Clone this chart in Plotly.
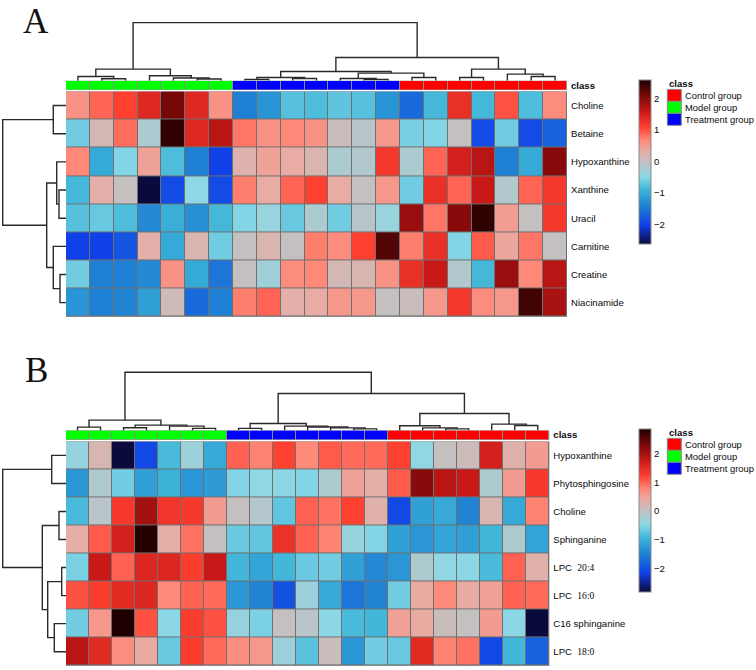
import plotly.graph_objects as go

W, H = 756, 670

# ---------------- data ----------------
group_names = ["Control group", "Model group", "Treatment group"]
group_colors = ["#ff0000", "#00ff00", "#0000ff"]
colorbar_ticks = [-2, -1, 0, 1, 2]

classes_A = ["Model group"] * 7 + ["Treatment group"] * 7 + ["Control group"] * 7
classes_B = ["Model group"] * 7 + ["Treatment group"] * 7 + ["Control group"] * 7

metabolites_A = ["Choline", "Betaine", "Hypoxanthine", "Xanthine", "Uracil",
                 "Carnitine", "Creatine", "Niacinamide"]
choline_A = [0.6, 0.9, 1.1, 1.4, 2.1, 1.4, 0.6, -1.4, -1.2, -0.75, -0.8, -0.7, -0.75, -1.2, -1.6, -0.85, 1.3, -0.85, 1.0, -0.8, 0.65]
betaine_A = [-0.6, 0.15, 0.85, -0.2, 2.5, 1.4, 1.7, 0.8, 0.6, 0.7, 0.6, 0.05, -0.1, 0.55, -0.55, -0.5, 0.0, -1.9, -0.6, -1.9, -1.7]
hypoxanthine_A = [0.7, -1.0, -0.5, 0.45, -0.8, -1.4, -2.0, 0.25, 0.45, 0.35, 0.2, -0.2, -0.15, 1.2, -0.2, 0.9, 1.5, 1.7, -1.4, -1.0, 2.0]
xanthine_A = [-0.85, 0.3, 0.0, -2.6, -1.9, -0.45, -1.9, 0.75, 0.35, 0.9, 1.1, 0.35, 0.0, 0.55, -0.6, 1.3, 0.9, 1.6, -0.15, 0.9, 1.2]
uracil_A = [-0.75, -0.65, -0.8, -1.3, -0.95, -1.25, -0.85, -0.5, -0.35, -0.65, -0.2, -0.6, -0.1, -0.35, 1.9, 0.8, 2.0, 2.5, 0.5, 0.0, 1.2]
carnitine_A = [-2.0, -2.0, -1.8, 0.3, -1.0, 0.2, -0.6, 0.0, 0.2, 0.0, 0.75, 0.65, 1.1, 2.3, 0.75, 1.3, -0.5, 0.95, 0.4, 0.8, 0.0]
creatine_A = [-0.6, -1.4, -1.4, -1.3, 0.6, -1.0, -1.5, 0.0, -0.3, 0.65, 0.7, 0.15, 0.2, 0.6, 1.3, 1.6, -0.15, -0.85, 1.9, 0.7, 1.7]
niacinamide_A = [-1.2, -1.4, -1.35, -1.1, 0.1, -1.6, -1.4, 0.75, 0.9, 0.3, 0.35, 0.55, 0.55, 0.0, 0.05, 0.55, 1.2, 0.65, 0.55, 2.4, 1.8]
values_A = [choline_A, betaine_A, hypoxanthine_A, xanthine_A, uracil_A,
            carnitine_A, creatine_A, niacinamide_A]

SERIF = "Liberation Serif, Times New Roman, serif"
metabolites_B = ["Hypoxanthine", "Phytosphingosine", "Choline", "Sphinganine",
                 'LPC  <span style="font-family:' + SERIF + '">20:4</span>',
                 'LPC  <span style="font-family:' + SERIF + '">16:0</span>',
                 "C16 sphinganine",
                 'LPC  <span style="font-family:' + SERIF + '">18:0</span>']
hypoxanthine_B = [-0.4, 0.2, -2.85, -2.1, -0.9, -0.35, -1.1, 1.0, 0.8, 1.2, 0.75, 1.05, 0.95, 0.95, 1.2, -0.45, 0.0, 0.1, 1.65, 0.3, 0.55]
phytosphingosine_B = [-1.3, -0.2, -0.65, -1.2, -1.0, -1.3, -1.25, -0.55, -0.45, -0.5, -0.55, -0.2, 0.5, 0.35, 1.05, 2.2, 1.85, 1.75, -0.2, 0.55, 1.3]
choline_B = [-0.9, -0.1, 1.3, 2.0, 1.35, 1.3, 0.55, 0.0, -0.15, -0.75, 1.0, 0.9, 1.2, 0.3, -2.1, -1.2, -1.1, -1.5, 0.2, -1.1, 0.8]
sphinganine_B = [0.35, 1.05, 1.65, 2.8, 0.35, 0.9, 0.0, -0.7, -0.75, 1.4, 1.0, 0.8, -0.4, -0.55, -1.2, -1.3, -1.15, -1.2, -0.95, -0.2, -1.15]
lpc204_B = [-0.6, 1.75, 1.0, 1.55, 1.55, 1.25, 1.75, -0.95, -1.15, -0.95, -0.7, -0.65, -1.2, -1.45, -1.3, -0.2, -0.45, -0.5, -0.9, 1.0, 0.3]
lpc160_B = [1.1, 1.25, 1.5, 1.55, 0.75, 1.0, 0.95, -1.3, -1.5, -2.0, -0.35, -1.1, -1.65, -1.5, -0.65, 0.4, 0.75, 0.4, 0.5, 1.0, 0.95]
c16sph_B = [-0.65, 0.6, 2.85, 1.1, -0.5, 1.25, 1.1, -0.4, -0.6, 0.0, -0.1, -0.5, -0.9, -0.95, 0.5, 0.4, 0.05, 0.0, 0.55, -0.5, -2.85]
lpc180_B = [1.85, 1.5, 0.7, 0.4, -0.7, 1.25, 0.95, 0.7, 0.6, -0.35, -0.8, 0.05, -1.3, -0.65, -0.7, 1.5, 0.8, 0.9, -2.1, -0.95, -1.85]
values_B = [hypoxanthine_B, phytosphingosine_B, choline_B, sphinganine_B,
            lpc204_B, lpc160_B, c16sph_B, lpc180_B]

# dendrograms: (left, right, merge height); ints are leaf indices
col_tree_A = (((0, (1, 2, 2.0), 4.3), (3, (4, (5, 6, 1.7), 2.7), 5.0), 11.7),
              ((((7, 8, 1.3), (9, 10, 2.3), 3.3),
                ((11, (12, 13, 1.3), 2.3), (14, 15, 3.3), 7.7), 9.3),
               ((16, 17, 3.3), (18, (19, 20, 4.3), 6.7), 11.7), 23.3), 58.3)
row_tree_A = ((0, 1, 12.7),
              ((2, (3, 4, 7.0), 9.3), (5, (6, 7, 6.0), 12.7), 19.3), 63.3)

col_tree_B = (((0, 1, 3.3), ((2, 3, 2.7), (4, (5, 6, 2.0), 4.3), 5.3), 10.3),
              (((7, 8, 2.0), (9, (10, (11, (12, 13, 1.5), 2.5), 3.5), 4.3), 7.0),
               ((14, (15, (16, 17, 1.5), 2.5), 4.7), (18, (19, 20, 5.0), 6.3), 17.0), 37.0), 58.3)
row_tree_B = ((0, 1, 14.3),
              ((2, 3, 7.0), ((4, 5, 4.3), (6, 7, 11.7), 18.3), 23.7), 63.3)

# ---------------- style ----------------
FONT = "Liberation Sans, Arial, sans-serif"
FS = 9.6
heat_colors = [
    [0.0, "#0a0a3c"], [0.1154, "#1040e8"], [0.2308, "#1e80d4"],
    [0.3269, "#3cb4d8"], [0.4135, "#8cd8e6"], [0.5, "#c4c0c0"],
    [0.5673, "#e8aca4"], [0.6346, "#ff8878"], [0.7115, "#ff4030"],
    [0.8077, "#c81818"], [0.9038, "#780808"], [1.0, "#1e0000"],
]
n_g = len(group_names)
class_scale = []
for i, c in enumerate(group_colors):
    class_scale += [[i / n_g, c], [(i + 1) / n_g, c]]


def px_x(p):
    return p / W


def px_y(p):
    return 1 - p / H


def tree_lines(node):
    if isinstance(node, int):
        return float(node), 0.0, [], []
    left, right, h = node
    xl, hl, xs1, ys1 = tree_lines(left)
    xr, hr, xs2, ys2 = tree_lines(right)
    xs = xs1 + xs2 + [xl, xl, xr, xr, None]
    ys = ys1 + ys2 + [hl, h, h, hr, None]
    return (xl + xr) / 2, h, xs, ys


panels = [
    dict(label="A", values=values_A, names=metabolites_A, classes=classes_A,
         col_tree=col_tree_A, row_tree=row_tree_A, zr=2.6,
         ax=dict(hx="x", hy="y", by="y2", dy="y3", rx="x2"),
         g=dict(left=66, right=567, top=90.7, bot=316.7, bar_top=80, bar_bot=89,
                den_top=15, cb_top=79, cb_bot=243, leg_top=82.7, lab_top=0, lab_x=22)),
    dict(label="B", values=values_B, names=metabolites_B, classes=classes_B,
         col_tree=col_tree_B, row_tree=row_tree_B, zr=2.85,
         ax=dict(hx="x3", hy="y4", by="y5", dy="y6", rx="x4"),
         g=dict(left=66, right=549.3, top=441.7, bot=666.7, bar_top=430.7, bar_bot=440,
                den_top=365.7, cb_top=430, cb_bot=593, leg_top=432.7, lab_top=350, lab_x=24)),
]

fig = go.Figure()
layout = dict(width=W, height=H, margin=dict(l=0, r=0, t=0, b=0),
              paper_bgcolor="white", plot_bgcolor="rgba(0,0,0,0)",
              showlegend=False, font=dict(family=FONT, size=FS, color="#111"))
shapes, annotations = [], []


def axname(a):
    return a[0] + "axis" + a[1:]


hidden = dict(showgrid=False, zeroline=False, showticklabels=False, ticks="",
              showline=False, fixedrange=True)

for p in panels:
    g, ax = p["g"], p["ax"]
    nrow, ncol = len(p["values"]), len(p["values"][0])
    hx, hy, by, dy, rx = ax["hx"], ax["hy"], ax["by"], ax["dy"], ax["rx"]

    # axes
    layout[axname(hx)] = dict(hidden, domain=[px_x(g["left"]), px_x(g["right"])],
                              range=[-0.5, ncol - 0.5], anchor=hy)
    layout[axname(hy)] = dict(hidden, domain=[px_y(g["bot"]), px_y(g["top"])],
                              range=[nrow - 0.5, -0.5], anchor=hx, side="right",
                              showticklabels=True, tickvals=list(range(nrow)),
                              ticktext=p["names"], ticklabelstandoff=3,
                              tickfont=dict(size=FS, color="#0a0a0a"))
    layout[axname(by)] = dict(hidden, domain=[px_y(g["bar_bot"]), px_y(g["bar_top"])],
                              range=[-0.5, 0.5], anchor=hx, side="right",
                              showticklabels=True, tickvals=[0],
                              ticktext=["<b>class</b>"], ticklabelstandoff=3,
                              tickfont=dict(size=FS, color="#0a0a0a"))
    layout[axname(dy)] = dict(hidden, domain=[px_y(g["bar_top"]), px_y(g["den_top"])],
                              range=[0, g["bar_top"] - g["den_top"]], anchor=hx)
    layout[axname(rx)] = dict(hidden, domain=[0, px_x(g["left"])],
                              range=[g["left"], 0], anchor=hy)

    # gray cell borders
    shapes.append(dict(type="rect", xref=hx, yref=hy, x0=-0.5, x1=ncol - 0.5,
                       y0=-0.5, y1=nrow - 0.5, layer="below",
                       fillcolor="#707070", line=dict(color="#707070", width=1)))
    shapes.append(dict(type="rect", xref=hx, yref=by, x0=-0.5, x1=ncol - 0.5,
                       y0=-0.5, y1=0.5, layer="below",
                       fillcolor="#8a8a8a", line=dict(color="#8a8a8a", width=1)))

    # heatmap
    cb_len = g["cb_bot"] - g["cb_top"]
    fig.add_trace(go.Heatmap(
        z=p["values"], x=list(range(ncol)), y=list(range(nrow)),
        xaxis=hx, yaxis=hy, colorscale=heat_colors, zmin=-p["zr"], zmax=p["zr"],
        xgap=1, ygap=1, hoverinfo="skip",
        colorbar=dict(x=px_x(638.7), xanchor="left", xpad=0, ypad=0,
                      y=px_y((g["cb_top"] + g["cb_bot"]) / 2), yanchor="middle",
                      len=cb_len / H, lenmode="fraction",
                      thickness=12, thicknessmode="pixels",
                      outlinewidth=1, outlinecolor="#8a8a8a",
                      tickvals=colorbar_ticks, ticks="",
                      tickfont=dict(size=FS, color="#0a0a0a")),
    ))

    # class bar
    codes = [[group_names.index(c) for c in p["classes"]]]
    fig.add_trace(go.Heatmap(
        z=codes, x=list(range(ncol)), y=[0], xaxis=hx, yaxis=by,
        colorscale=class_scale, zmin=-0.5, zmax=n_g - 0.5, showscale=False,
        xgap=1, hoverinfo="skip"))

    # column dendrogram
    _, _, xs, ys = tree_lines(p["col_tree"])
    fig.add_trace(go.Scatter(x=xs, y=ys, xaxis=hx, yaxis=dy, mode="lines",
                             line=dict(color="#2a2a2a", width=1.4),
                             hoverinfo="skip", cliponaxis=False))
    # row dendrogram
    _, _, xs, ys = tree_lines(p["row_tree"])
    fig.add_trace(go.Scatter(x=ys, y=xs, xaxis=rx, yaxis=hy, mode="lines",
                             line=dict(color="#2a2a2a", width=1.4),
                             hoverinfo="skip", cliponaxis=False))

    # legend (class)
    annotations.append(dict(xref="paper", yref="paper", x=px_x(666.5), y=px_y(g["leg_top"]),
                            xanchor="left", yanchor="middle", showarrow=False,
                            text="<b>class</b>", font=dict(size=FS, color="#0a0a0a")))
    box_top = g["leg_top"] + 6
    for i, (name, col) in enumerate(zip(group_names, group_colors)):
        y0 = box_top + 12 * i
        shapes.append(dict(type="rect", xref="paper", yref="paper",
                           x0=px_x(667.3), x1=px_x(681.3), y0=px_y(y0 + 12), y1=px_y(y0),
                           fillcolor=col, line=dict(color="#8a8a8a", width=1)))
        annotations.append(dict(xref="paper", yref="paper", x=px_x(683), y=px_y(y0 + 6),
                                xanchor="left", yanchor="middle", showarrow=False,
                                text=name, font=dict(size=9.4, color="#0a0a0a")))

    # panel letter
    annotations.append(dict(xref="paper", yref="paper", x=px_x(g["lab_x"]), y=px_y(g["lab_top"]),
                            xanchor="left", yanchor="top", showarrow=False, borderpad=0,
                            text=p["label"],
                            font=dict(family=SERIF, size=35, color="#111")))

layout["shapes"] = shapes
layout["annotations"] = annotations
fig.update_layout(**layout)
fig.write_html("out.html", config={"displayModeBar": False},
               post_script="document.body.style.margin='0px';document.body.style.padding='0px';")
